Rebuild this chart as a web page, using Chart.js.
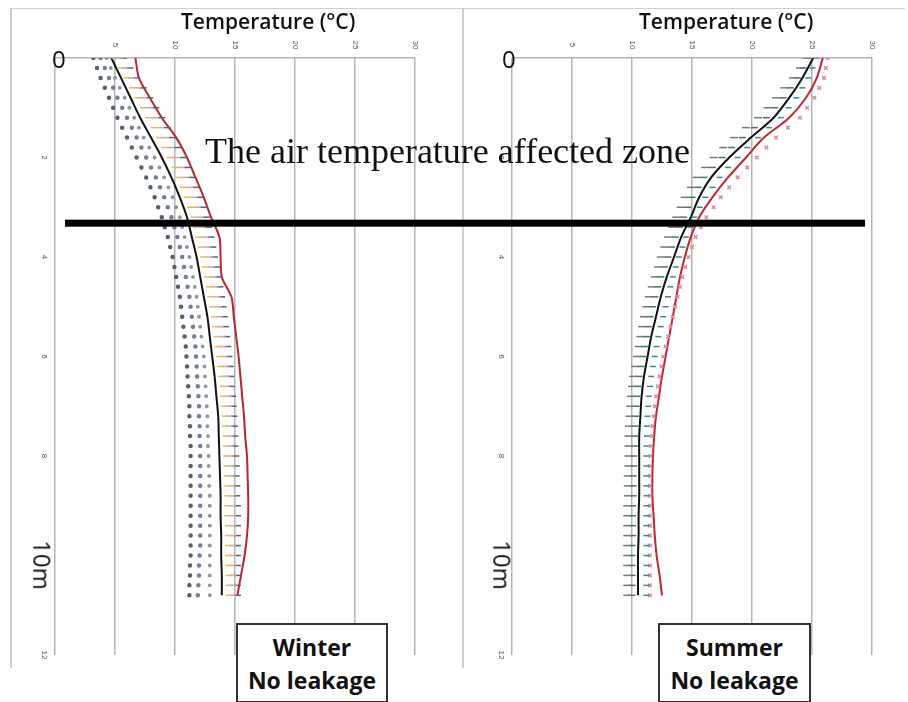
<!DOCTYPE html>
<html>
<head>
<meta charset="utf-8">
<script src="https://cdn.jsdelivr.net/npm/chart.js@4.4.1/dist/chart.umd.min.js"></script>
<style>
  body { margin: 0; background: #fff; }
  #wrap { position: relative; width: 908px; height: 702px; overflow: hidden; font-family: "Open Sans", sans-serif; }
  canvas { position: absolute; left: 0; top: 0; }
  .txt { position: absolute; white-space: nowrap; color: #111; }
  .frame { position: absolute; background: #d0d0d0; }
  .box { position: absolute; background: #fff; border: 2px solid #333; text-align: center;
         font-weight: 700; font-size: 23px; line-height: 33px; color: #111; padding-top: 6px; box-sizing: border-box; }
</style>
</head>
<body>
<div id="wrap">
  <div class="frame" style="left:10px;top:8px;width:895px;height:1px"></div>
  <div class="frame" style="left:10px;top:8px;width:1.5px;height:660px"></div>
  <div class="frame" style="left:462px;top:8px;width:1.5px;height:660px"></div>
  <canvas id="winter" width="908" height="702"></canvas>
  <canvas id="summer" width="908" height="702"></canvas>
  <div class="txt" style="left:181px;top:7px;font-size:21px;font-weight:600">Temperature (°C)</div>
  <div class="txt" style="left:639px;top:7px;font-size:21px;font-weight:600">Temperature (°C)</div>
  <div class="txt" style="left:52px;top:42px;font-size:24px">0</div>
  <div class="txt" style="left:502px;top:42px;font-size:24px">0</div>
  <div class="txt" style="left:18px;top:565px;font-size:24px;transform:translate(0,-50%) rotate(90deg);transform-origin:50% 50%">10m</div>
  <div class="txt" style="left:478px;top:565px;font-size:24px;transform:translate(0,-50%) rotate(90deg);transform-origin:50% 50%">10m</div>
  <div class="txt" style="left:205px;top:130px;font-size:36px;font-family:'Liberation Serif',serif">The air temperature affected zone</div>
  <div class="box" style="left:236px;top:623px;width:152px;height:80px">Winter<br>No leakage</div>
  <div class="box" style="left:658px;top:623px;width:153px;height:80px">Summer<br>No leakage</div>
</div>
<script>
// Depths (m) where the profile lines were read
const depths = [0, 0.4, 0.8, 1.2, 1.6, 2.0, 2.4, 2.8, 3.2, 3.6, 4.0, 4.4, 4.8, 5.2,
                5.6, 6.0, 6.4, 6.8, 7.2, 7.6, 8.0, 8.4, 8.8, 9.2, 9.6, 10.0, 10.4, 10.8];
// Depths (m) of the marker rows (every 0.2 m)
const markDepths = [0, 0.2, 0.4, 0.6, 0.8, 1.0, 1.2, 1.4, 1.6, 1.8, 2.0, 2.2, 2.4, 2.6, 2.8,
                    3.0, 3.2, 3.4, 3.6, 3.8, 4.0, 4.2, 4.4, 4.6, 4.8, 5.0, 5.2, 5.4, 5.6, 5.8,
                    6.0, 6.2, 6.4, 6.6, 6.8, 7.0, 7.2, 7.4, 7.6, 7.8, 8.0, 8.2, 8.4, 8.6, 8.8,
                    9.0, 9.2, 9.4, 9.6, 9.8, 10.0, 10.2, 10.4, 10.6, 10.8];

// Winter, no leakage (°C)
const winterBlack = [4.7, 5.5, 6.3, 7.1, 8.0, 8.9, 9.7, 10.4, 11.0, 11.4, 11.8, 12.1, 12.4, 12.7,
                     12.9, 13.1, 13.3, 13.45, 13.6, 13.65, 13.7, 13.75, 13.8, 13.8, 13.85, 13.85, 13.9, 13.9];
const winterRed = [6.7, 7.0, 7.9, 8.9, 10.1, 11.0, 11.7, 12.4, 13.0, 13.7, 13.8, 13.9, 14.7, 14.9,
                   15.1, 15.3, 15.45, 15.6, 15.75, 15.85, 16.0, 16.05, 16.1, 16.1, 16.0, 15.8, 15.5, 15.2];
const winterA = [3.2, 3.5, 3.8, 4.15, 4.5, 4.85, 5.2, 5.6, 6.0, 6.4, 6.8, 7.2, 7.6, 7.95, 8.3,
                 8.6, 8.9, 9.15, 9.4, 9.6, 9.8, 9.95, 10.1, 10.25, 10.4, 10.5, 10.6, 10.7, 10.8, 10.9,
                 10.95, 11.0, 11.05, 11.1, 11.15, 11.2, 11.2, 11.25, 11.25, 11.3, 11.3, 11.3, 11.3, 11.3, 11.3,
                 11.3, 11.3, 11.3, 11.3, 11.3, 11.3, 11.25, 11.25, 11.2, 11.2];
const winterB = [3.8, 4.15, 4.5, 4.85, 5.2, 5.6, 6.0, 6.4, 6.8, 7.2, 7.6, 8.0, 8.4, 8.75, 9.1,
                 9.4, 9.7, 9.95, 10.2, 10.4, 10.6, 10.75, 10.9, 11.05, 11.2, 11.3, 11.4, 11.5, 11.6, 11.7,
                 11.75, 11.8, 11.85, 11.9, 11.95, 12.0, 12.0, 12.05, 12.05, 12.1, 12.1, 12.1, 12.1, 12.1, 12.1,
                 12.1, 12.1, 12.1, 12.1, 12.1, 12.05, 12.0, 12.0, 11.95, 11.9];
const winterC = [4.3, 4.65, 5.0, 5.4, 5.8, 6.2, 6.6, 7.0, 7.4, 7.85, 8.3, 8.7, 9.1, 9.45, 9.8,
                 10.1, 10.4, 10.6, 10.8, 11.0, 11.2, 11.35, 11.5, 11.65, 11.8, 11.9, 12.0, 12.1, 12.2, 12.3,
                 12.4, 12.45, 12.5, 12.55, 12.6, 12.65, 12.7, 12.7, 12.75, 12.75, 12.8, 12.8, 12.85, 12.85, 12.9,
                 12.9, 12.9, 12.9, 12.9, 12.9, 12.9, 12.9, 12.9, 12.9, 12.9];
const winterD = [5.0, 5.5, 6.0, 6.45, 6.9, 7.35, 7.8, 8.25, 8.7, 9.15, 9.6, 10.0, 10.4, 10.7, 11.0,
                 11.3, 11.6, 11.8, 12.0, 12.2, 12.4, 12.55, 12.7, 12.85, 13.0, 13.15, 13.3, 13.4, 13.5, 13.6,
                 13.7, 13.8, 13.9, 14.0, 14.05, 14.1, 14.2, 14.2, 14.25, 14.3, 14.3, 14.35, 14.35, 14.4, 14.4,
                 14.4, 14.4, 14.45, 14.45, 14.45, 14.45, 14.5, 14.5, 14.5, 14.5];
const winterE = [5.4, 5.9, 6.4, 6.9, 7.4, 7.85, 8.3, 8.75, 9.2, 9.65, 10.1, 10.5, 10.9, 11.25, 11.6,
                 11.85, 12.1, 12.3, 12.5, 12.7, 12.9, 13.05, 13.2, 13.35, 13.5, 13.6, 13.7, 13.8, 13.9, 14.0,
                 14.1, 14.2, 14.25, 14.3, 14.4, 14.45, 14.5, 14.55, 14.6, 14.6, 14.65, 14.7, 14.7, 14.75, 14.75,
                 14.8, 14.8, 14.8, 14.8, 14.8, 14.8, 14.8, 14.8, 14.8, 14.8];
const winterF = [5.7, 6.25, 6.8, 7.35, 7.9, 8.4, 8.9, 9.35, 9.8, 10.25, 10.7, 11.05, 11.4, 11.75, 12.1,
                 12.35, 12.6, 12.8, 13.0, 13.15, 13.3, 13.45, 13.6, 13.75, 13.9, 14.0, 14.1, 14.2, 14.3, 14.4,
                 14.5, 14.6, 14.65, 14.7, 14.8, 14.85, 14.9, 14.95, 15.0, 15.0, 15.05, 15.1, 15.1, 15.15, 15.15,
                 15.2, 15.2, 15.2, 15.2, 15.2, 15.2, 15.2, 15.2, 15.2, 15.2];

// Summer, no leakage (°C)
const summerBlack = [25.1, 24.2, 23.1, 21.8, 19.9, 18.1, 16.6, 15.6, 14.9, 14.1, 13.5, 12.9, 12.4, 12.0,
                     11.6, 11.3, 11.0, 10.8, 10.7, 10.6, 10.6, 10.6, 10.6, 10.55, 10.55, 10.5, 10.5, 10.5];
const summerRed = [25.9, 25.4, 24.5, 23.1, 21.0, 19.5, 18.0, 16.7, 15.6, 14.9, 14.4, 14.0, 13.7, 13.4,
                   13.1, 12.8, 12.5, 12.25, 12.0, 11.85, 11.75, 11.7, 11.7, 11.8, 11.9, 12.05, 12.3, 12.5];
const summerA = [24.5, 24.0, 23.4, 22.7, 22.0, 21.3, 20.5, 19.5, 18.5, 17.6, 16.8, 16.1, 15.4, 14.9, 14.4,
                 14.05, 13.7, 13.35, 13.0, 12.7, 12.4, 12.15, 11.9, 11.65, 11.4, 11.2, 11.0, 10.85, 10.7, 10.55,
                 10.4, 10.25, 10.1, 10.0, 9.9, 9.85, 9.8, 9.75, 9.7, 9.7, 9.7, 9.7, 9.65, 9.65, 9.65,
                 9.6, 9.6, 9.6, 9.6, 9.6, 9.6, 9.6, 9.6, 9.6, 9.6];
const summerB = [24.8, 24.3, 23.8, 23.2, 22.6, 21.9, 21.2, 20.2, 19.2, 18.3, 17.5, 16.7, 16.0, 15.5, 15.0,
                 14.65, 14.3, 13.95, 13.6, 13.3, 13.0, 12.7, 12.4, 12.15, 11.9, 11.7, 11.5, 11.35, 11.2, 11.05,
                 10.9, 10.75, 10.6, 10.5, 10.4, 10.35, 10.3, 10.25, 10.2, 10.2, 10.15, 10.15, 10.1, 10.1, 10.1,
                 10.05, 10.05, 10.05, 10.05, 10.0, 10.0, 10.0, 10.0, 10.0, 10.0];
const summerC = [25.4, 25.05, 24.7, 24.2, 23.7, 23.05, 22.4, 21.4, 20.5, 19.6, 18.8, 18.0, 17.3, 16.7, 16.1,
                 15.65, 15.2, 14.85, 14.5, 14.2, 13.9, 13.65, 13.4, 13.2, 13.0, 12.8, 12.6, 12.4, 12.2, 12.05,
                 11.9, 11.75, 11.6, 11.5, 11.4, 11.35, 11.3, 11.25, 11.25, 11.2, 11.2, 11.2, 11.2, 11.2, 11.2,
                 11.2, 11.2, 11.2, 11.2, 11.2, 11.2, 11.2, 11.2, 11.2, 11.2];
const summerD = [26.3, 26.15, 26.0, 25.6, 25.2, 24.6, 24.0, 23.0, 22.0, 21.2, 20.4, 19.6, 18.8, 18.1, 17.4,
                 16.8, 16.2, 15.75, 15.3, 15.0, 14.7, 14.45, 14.2, 14.0, 13.8, 13.6, 13.4, 13.2, 13.0, 12.8,
                 12.6, 12.45, 12.3, 12.15, 12.0, 11.9, 11.8, 11.7, 11.65, 11.6, 11.55, 11.5, 11.5, 11.5, 11.5,
                 11.5, 11.5, 11.5, 11.5, 11.5, 11.5, 11.5, 11.5, 11.5, 11.5];

// Axis ticks
const tempTicks = [5, 10, 15, 20, 25, 30];
const depthTicks = [2, 4, 6, 8, 12];
const zoneDepth = 3.32;   // bottom of the air temperature affected zone

const pts = (temps, ds) => temps.map((t, i) => ({ x: t, y: ds[i] }));

function marks(temps, color, style, r) {
  return { data: pts(temps, markDepths), showLine: false, pointStyle: style, pointRadius: r,
           borderColor: color, backgroundColor: color, borderWidth: 1.5 };
}
function line(temps, color) {
  return { data: pts(temps, depths), showLine: true, pointRadius: 0, borderColor: color,
           borderWidth: 2, tension: 0.3 };
}

// Small rotated tick labels drawn from the scales
const tickLabels = {
  id: 'tickLabels',
  afterDraw(chart) {
    const ctx = chart.ctx, xs = chart.scales.x, ys = chart.scales.y;
    ctx.save();
    ctx.fillStyle = '#555';
    ctx.font = '8px "Liberation Sans"';
    ctx.textAlign = 'center';
    ctx.textBaseline = 'middle';
    tempTicks.forEach(v => {
      ctx.save();
      ctx.translate(xs.getPixelForValue(v), 45);
      ctx.rotate(Math.PI / 2);
      ctx.fillText(String(v), 0, 0);
      ctx.restore();
    });
    depthTicks.forEach(v => {
      ctx.save();
      ctx.translate(xs.left - 11, ys.getPixelForValue(v));
      ctx.rotate(Math.PI / 2);
      ctx.fillText(String(v), 0, 0);
      ctx.restore();
    });
    ctx.restore();
  }
};

// Thick black bar marking the affected zone, across both panels
const zoneBar = {
  id: 'zoneBar',
  afterDraw(chart) {
    if (chart.canvas.id !== 'summer') return;
    const ctx = chart.ctx, y = chart.scales.y.getPixelForValue(zoneDepth);
    ctx.save();
    ctx.fillStyle = '#000';
    ctx.fillRect(65, y - 3.5, 800, 7);
    ctx.restore();
  }
};

function panel(id, padLeft, padRight, datasets) {
  return new Chart(document.getElementById(id), {
    type: 'scatter',
    data: { datasets },
    options: {
      responsive: false,
      devicePixelRatio: 1,
      animation: false,
      layout: { padding: { left: padLeft, right: padRight, top: 58, bottom: 47 } },
      plugins: { legend: { display: false }, tooltip: { enabled: false } },
      scales: {
        x: {
          type: 'linear', position: 'top', min: 0, max: 30,
          ticks: { display: false, stepSize: 5 },
          grid: { color: '#b4b4b4', lineWidth: 1.5, drawTicks: false },
          border: { display: false },
          afterFit: s => { s.height = 0; }
        },
        y: {
          type: 'linear', reverse: true, min: 0, max: 12,
          ticks: { display: false, stepSize: 2 },
          grid: { color: c => c.tick.value === 0 ? '#b4b4b4' : 'rgba(0,0,0,0)', lineWidth: 1.5, drawTicks: false },
          border: { display: false },
          afterFit: s => { s.width = 0; }
        }
      }
    },
    plugins: [tickLabels, zoneBar]
  });
}

panel('winter', 55, 493, [
  marks(winterA, '#5a5f6a', 'circle', 1.5),
  marks(winterB, '#71809a', 'circle', 1.5),
  marks(winterC, '#9096a0', 'circle', 1.2),
  marks(winterD, '#e0bf55', 'line', 3.5),
  marks(winterE, '#d8a0b0', 'line', 3.5),
  marks(winterF, '#55607a', 'line', 3.5),
  line(winterBlack, '#111'),
  line(winterRed, '#b8262e')
]);

panel('summer', 512, 36, [
  marks(summerA, '#77777f', 'line', 4),
  marks(summerB, '#3f7a5a', 'line', 3.5),
  marks(summerC, '#2d8f96', 'line', 3),
  marks(summerD, '#d88aa0', 'crossRot', 2.5),
  line(summerBlack, '#111'),
  line(summerRed, '#c0262e')
]);
</script>
</body>
</html>
